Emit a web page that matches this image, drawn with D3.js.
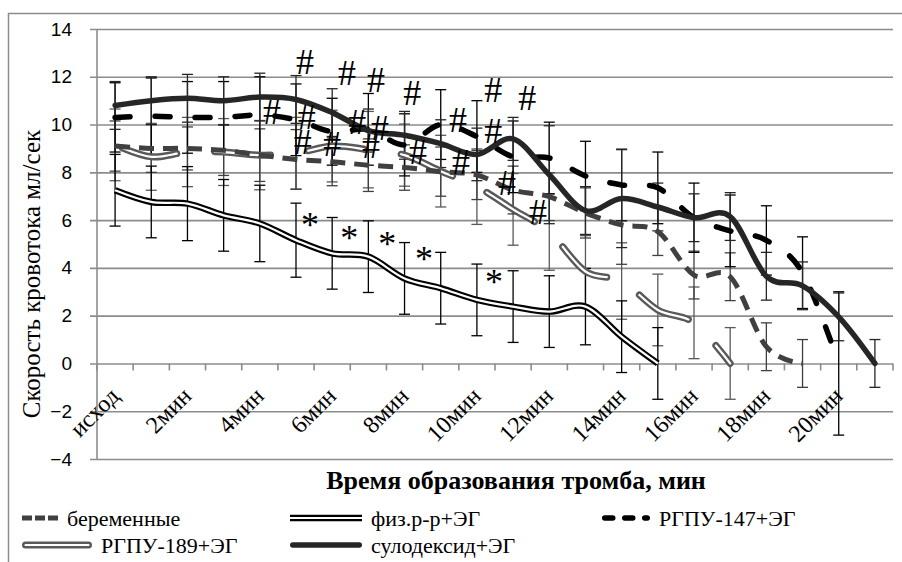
<!DOCTYPE html>
<html>
<head>
<meta charset="utf-8">
<script src="https://cdnjs.cloudflare.com/ajax/libs/d3/7.8.5/d3.min.js"></script>
<style>
  body { margin: 0; background: #fff; }
  svg { display: block; }
</style>
</head>
<body>
<div id="main_div"></div>
<script>
// ---------------- data ----------------
var categories = ["исход", "1мин", "2мин", "3мин", "4мин", "5мин", "6мин", "7мин", "8мин", "9мин", "10мин",
                  "11мин", "12мин", "13мин", "14мин", "15мин", "16мин", "17мин", "18мин", "19мин", "20мин", "21мин"];

var yTicks = [-4, -2, 0, 2, 4, 6, 8, 10, 12, 14];

var berValues = [9.1, 9.0, 9.0, 8.92, 8.72, 8.54, 8.44, 8.3, 8.2, 8.03, 7.89, 7.26, 6.98, 6.3, 5.8, 5.52, 3.7, 3.63, 0.7, 0, null, null];
var berErrors = [1.05, 1.0, 0.9, 1.05, 1.1, 1.25, 1.0, 1.1, 0.95, 1.03, 1.03, 1.0, 1.0, 1.05, 1.65, 1.0, 1.0, 1.0, 1.0, 1.0, null, null];

var fizValues = [7.25, 6.76, 6.69, 6.2, 5.86, 5.16, 4.61, 4.47, 3.56, 3.15, 2.66, 2.38, 2.17, 2.38, 1.12, 0, null, null, null, null, null, null];
var fizErrors = [1.5, 1.5, 1.55, 1.5, 1.6, 1.55, 1.5, 1.5, 1.5, 1.5, 1.5, 1.5, 1.5, 1.6, 1.5, 1.5, null, null, null, null, null, null];

var r147Values = [10.3, 10.35, 10.3, 10.3, 10.4, 10.2, 9.7, 9.8, 9.15, 10.0, 9.5, 8.65, 8.6, 7.85, 7.47, 7.35, 6.1, 5.55, 5.15, 3.8, 0, null];
var r147Errors = [1.45, 1.6, 1.5, 1.5, 1.6, 1.5, 1.4, 1.5, 1.3, 1.46, 1.5, 1.5, 1.5, 1.45, 1.5, 1.5, 1.45, 1.5, 1.45, 1.5, 3.0, null];

var r189Values = [9.15, 8.65, 8.85, 8.85, 8.72, 8.8, 9.1, 8.95, 8.72, 8.05, 7.4, 6.45, 5.5, 3.85, 3.45, 2.24, 1.7, 0, null, null, null, null];
var r189Errors = [1.5, 1.4, 1.45, 1.4, 1.45, 1.5, 1.5, 1.6, 1.3, 1.5, 1.58, 1.5, 1.6, 1.5, 1.6, 1.5, 1.5, 1.5, null, null, null, null];

var sulValues = [10.8, 11.0, 11.1, 11.0, 11.15, 11.05, 10.5, 9.75, 9.55, 9.2, 8.75, 9.4, 7.9, 6.4, 6.9, 6.55, 6.1, 6.15, 3.65, 3.25, 1.95, 0];
var sulErrors = [1.0, 1.0, 1.0, 1.0, 1.0, 1.0, 1.0, 0.9, 1.0, 1.0, 1.1, 0.9, 2.05, 1.0, 2.05, 1.0, 1.0, 1.0, 1.0, 1.0, 1.0, 1.0];

// significance marks: [category position, value]
var hashMarks = [[5.75, 12.62], [6.91, 12.16], [7.71, 11.87], [8.71, 11.32], [10.95, 11.44], [11.89, 11.11],
                 [4.84, 10.52], [5.80, 10.31], [5.69, 9.26], [6.50, 9.18], [7.19, 10.10], [7.82, 9.85],
                 [7.57, 9.10], [8.87, 8.85], [9.98, 10.19], [10.06, 8.43], [10.95, 9.73], [11.33, 7.55], [12.19, 6.34]];
var starMarks = [[5.89, 6.0], [6.97, 5.46], [8.02, 5.17], [9.04, 4.58], [10.97, 3.58]];

var legendNames = ["беременные", "физ.р-р+ЭГ", "РГПУ-147+ЭГ", "РГПУ-189+ЭГ", "сулодексид+ЭГ"];

// ---------------- layout ----------------
var WIDTH = 902;
var HEIGHT = 562;
var PLOT_LEFT = 97;
var PLOT_RIGHT = 893;
var PLOT_TOP = 29;
var PLOT_BOTTOM = 459;
var GRID_COLOR = "#8c8c8c";

var series = [
  {name: legendNames[3], values: r189Values, errors: r189Errors, color: "#595959", width: 7, inner: 2.2, dash: "56,38", offset: -8, cap: "round", barColor: "#595959"},
  {name: legendNames[0], values: berValues, errors: berErrors, color: "#404040", width: 5, inner: 0, dash: "15,9", offset: 0, cap: "butt", barColor: "#404040"},
  {name: legendNames[1], values: fizValues, errors: fizErrors, color: "#000000", width: 6.5, inner: 2.2, dash: null, offset: 0, cap: "butt", barColor: "#000000"},
  {name: legendNames[2], values: r147Values, errors: r147Errors, color: "#000000", width: 5.5, inner: 0, dash: "15,25", offset: 0, cap: "round", barColor: "#000000"},
  {name: legendNames[4], values: sulValues, errors: sulErrors, color: "#262626", width: 5.5, inner: 0, dash: null, offset: 0, cap: "round", barColor: "#262626"}
];

var svg = d3.select("#main_div").append("svg")
              .attr("width", WIDTH)
              .attr("height", HEIGHT);

svg.append("rect")
      .attr("width", WIDTH)
      .attr("height", HEIGHT)
      .style("fill", "white");

// Outer chart border
svg.append("rect")
      .attr("x", 8.5)
      .attr("y", 13.5)
      .attr("width", WIDTH + 20)
      .attr("height", HEIGHT + 20)
      .style("fill", "none")
      .style("stroke", GRID_COLOR)
      .style("stroke-width", 1.5);

// Scales
var x = d3.scaleBand()
            .domain(categories)
            .range([PLOT_LEFT, PLOT_RIGHT]);

var xPos = d3.scaleLinear()
            .domain([0, categories.length])
            .range([PLOT_LEFT, PLOT_RIGHT]);

var y = d3.scaleLinear()
            .domain([-4, 14])
            .range([PLOT_BOTTOM, PLOT_TOP]);

function cx(i) { return x(categories[i]) + x.bandwidth() / 2; }

// Gridlines + y axis
var yAxis = d3.axisLeft(y)
                .tickValues(yTicks)
                .tickSize(-(PLOT_RIGHT - PLOT_LEFT) - 7)
                .tickPadding(18)
                .tickFormat(d3.format("d"));

var yAxisG = svg.append("g")
                  .attr("transform", "translate(" + PLOT_RIGHT + ",0)")
                  .call(yAxis);
yAxisG.select(".domain").remove();
yAxisG.selectAll(".tick line")
        .attr("x1", 0)
        .attr("x2", -(PLOT_RIGHT - PLOT_LEFT) - 7)
        .style("stroke", GRID_COLOR)
        .style("stroke-width", 1.6);
yAxisG.selectAll(".tick text")
        .attr("x", -(PLOT_RIGHT - PLOT_LEFT) - 25)
        .style("font-family", "'Liberation Sans', Arial, sans-serif")
        .style("font-size", "19px")
        .style("fill", "#000");

svg.append("line")
      .attr("x1", PLOT_LEFT).attr("x2", PLOT_LEFT)
      .attr("y1", PLOT_TOP).attr("y2", PLOT_BOTTOM)
      .style("stroke", GRID_COLOR)
      .style("stroke-width", 1.6);

// Category axis at zero
var xAxis = d3.axisBottom(x)
                .tickSize(0)
                .tickFormat(function(d, i) { return i % 2 === 0 ? d : ""; });

var xAxisG = svg.append("g")
                  .attr("transform", "translate(0," + y(0) + ")")
                  .call(xAxis);
xAxisG.select(".domain").remove();
xAxisG.selectAll(".tick text")
        .attr("text-anchor", "end")
        .attr("transform", "translate(" + (x.bandwidth() * 0.15) + ",34) rotate(-45)")
        .attr("dy", 0)
        .attr("y", 0)
        .style("font-family", "'Liberation Serif', 'Times New Roman', serif")
        .style("font-size", "24px")
        .style("fill", "#000");

// tick marks between categories
svg.append("g").selectAll("line")
      .data(d3.range(categories.length + 1))
      .enter()
    .append("line")
      .attr("x1", function(d) { return xPos(d); })
      .attr("x2", function(d) { return xPos(d); })
      .attr("y1", y(0))
      .attr("y2", y(0) + 7)
      .style("stroke", GRID_COLOR)
      .style("stroke-width", 1.6);

// Error bars
series.forEach(function(s) {
  var pts = s.values.map(function(v, i) { return {i: i, v: v, e: s.errors[i]}; })
                    .filter(function(d) { return d.v !== null; });
  var g = svg.append("g");
  g.selectAll(".bar").data(pts).enter()
    .append("line")
      .attr("x1", function(d) { return cx(d.i); })
      .attr("x2", function(d) { return cx(d.i); })
      .attr("y1", function(d) { return y(d.v - d.e); })
      .attr("y2", function(d) { return y(d.v + d.e); })
      .style("stroke", s.barColor)
      .style("stroke-width", 1.3);
  [-1, 1].forEach(function(sign) {
    g.selectAll(".cap" + sign).data(pts).enter()
      .append("line")
        .attr("x1", function(d) { return cx(d.i) - 5.5; })
        .attr("x2", function(d) { return cx(d.i) + 5.5; })
        .attr("y1", function(d) { return y(d.v + sign * d.e); })
        .attr("y2", function(d) { return y(d.v + sign * d.e); })
        .style("stroke", s.barColor)
        .style("stroke-width", 1.3);
  });
});

// Series lines (smoothed like Excel)
var line = d3.line()
              .defined(function(d) { return d.v !== null; })
              .x(function(d) { return cx(d.i); })
              .y(function(d) { return y(d.v); })
              .curve(d3.curveCardinal.tension(0));

series.forEach(function(s) {
  var pts = s.values.map(function(v, i) { return {i: i, v: v}; });
  svg.append("path")
        .datum(pts)
        .attr("d", line)
        .style("fill", "none")
        .style("stroke", s.color)
        .style("stroke-width", s.width)
        .style("stroke-linecap", s.cap)
        .style("stroke-linejoin", "round")
        .style("stroke-dasharray", s.dash)
        .style("stroke-dashoffset", s.offset);
  if (s.inner > 0) {
    svg.append("path")
          .datum(pts)
          .attr("d", line)
          .style("fill", "none")
          .style("stroke", "white")
          .style("stroke-width", s.inner)
          .style("stroke-linecap", s.cap)
          .style("stroke-linejoin", "round")
          .style("stroke-dasharray", s.dash)
          .style("stroke-dashoffset", s.offset);
  }
});

// Significance marks
svg.append("g").selectAll("text")
      .data(hashMarks).enter()
    .append("text")
      .attr("x", function(d) { return xPos(d[0]); })
      .attr("y", function(d) { return y(d[1]); })
      .attr("dy", "0.34em")
      .attr("text-anchor", "middle")
      .style("font-family", "'Liberation Serif', 'Times New Roman', serif")
      .style("font-size", "36px")
      .text("#");

svg.append("g").selectAll("text")
      .data(starMarks).enter()
    .append("text")
      .attr("x", function(d) { return xPos(d[0]); })
      .attr("y", function(d) { return y(d[1]); })
      .attr("dy", "0.46em")
      .attr("text-anchor", "middle")
      .style("font-family", "'Liberation Serif', 'Times New Roman', serif")
      .style("font-size", "36px")
      .text("*");

// Axis titles
svg.append("text")
      .attr("transform", "translate(40," + ((PLOT_TOP + PLOT_BOTTOM) / 2 + 30) + ") rotate(-90)")
      .attr("text-anchor", "middle")
      .style("font-family", "'Liberation Serif', 'Times New Roman', serif")
      .style("font-size", "25px")
      .text("Скорость кровотока мл/сек");

svg.append("text")
      .attr("x", 516)
      .attr("y", 489)
      .attr("text-anchor", "middle")
      .style("font-family", "'Liberation Serif', 'Times New Roman', serif")
      .style("font-weight", "bold")
      .style("font-size", "26px")
      .text("Время образования тромба, мин");

// Legend
var legendItems = [
  {s: series[1], x: 22, y: 518, len: 36, dash: "10,3"},
  {s: series[2], x: 290, y: 518, len: 72, dash: null},
  {s: series[3], x: 602, y: 518, len: 48, dash: "8,12"},
  {s: series[0], x: 22, y: 545, len: 70, dash: null},
  {s: series[4], x: 290, y: 545, len: 72, dash: null}
];

var legend = svg.append("g");
legendItems.forEach(function(item) {
  var s = item.s;
  var x0 = item.x, x1 = item.x + item.len;
  var capPad = s.cap === "round" ? s.width / 2 : 0;
  legend.append("line")
          .attr("x1", x0 + capPad).attr("x2", x1 - capPad)
          .attr("y1", item.y).attr("y2", item.y)
          .style("stroke", s.color)
          .style("stroke-width", s.width)
          .style("stroke-linecap", s.cap)
          .style("stroke-dasharray", item.dash);
  if (s.inner > 0) {
    legend.append("line")
            .attr("x1", x0 + capPad).attr("x2", x1 - capPad)
            .attr("y1", item.y).attr("y2", item.y)
            .style("stroke", "white")
            .style("stroke-width", s.inner)
            .style("stroke-linecap", s.cap);
  }
  legend.append("text")
          .attr("x", x1 + 9)
          .attr("y", item.y)
          .attr("dy", "0.35em")
          .style("font-family", "'Liberation Serif', 'Times New Roman', serif")
          .style("font-size", "22px")
          .text(s.name);
});
</script>
</body>
</html>
